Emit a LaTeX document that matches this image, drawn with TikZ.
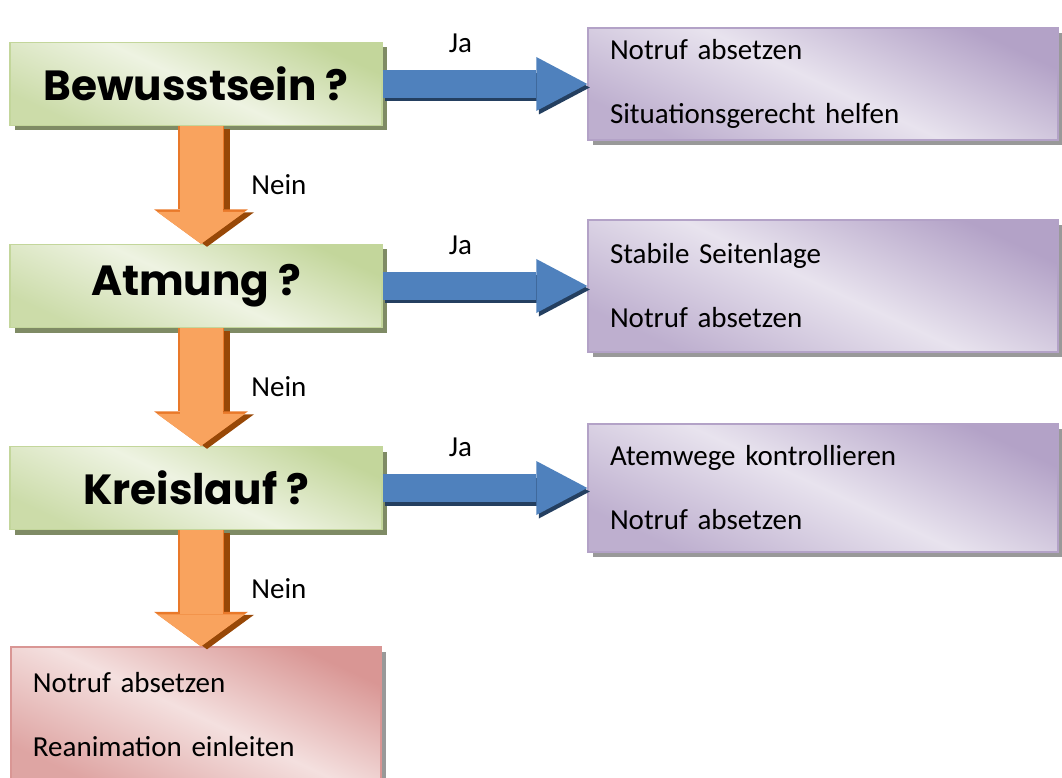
\documentclass[tikz,border=0pt]{standalone}
\usepackage{fontspec}
\setmainfont{Carlito}
\newfontfamily\titlefont{Poppins}
\usepackage{tikz}
\usetikzlibrary{arrows.meta, shadows, shadings}

\definecolor{gruenhell}{HTML}{EEF3E2}
\definecolor{gruendunkel}{HTML}{C3D69B}
\definecolor{lilahell}{HTML}{E8E3EE}
\definecolor{liladunkel}{HTML}{B3A2C7}
\definecolor{rothell}{HTML}{F4E0DF}
\definecolor{rotdunkel}{HTML}{D99694}
\definecolor{pfeilblau}{HTML}{4F81BD}
\definecolor{pfeilblaudunkel}{HTML}{243F60}
\definecolor{pfeilorange}{HTML}{F9A35E}
\definecolor{pfeilorangerand}{HTML}{E9792A}
\definecolor{pfeilbraun}{HTML}{984807}

\begin{document}
\begin{tikzpicture}[x=0.2mm, y=-0.2mm, node distance=40.4mm,
        font=\fontsize{16.5}{20}\selectfont,
        kasten/.style={line width=0.8pt,
            drop shadow={shadow xshift=1mm, shadow yshift=-1mm, fill=black!40, opacity=1}},
        frage/.style={kasten, draw=gruendunkel, top color=gruendunkel, bottom color=gruendunkel!80!gruenhell,
            middle color=gruenhell, shading angle=-25, minimum width=74.4mm, minimum height=16.6mm,
            drop shadow={shadow xshift=1mm, shadow yshift=-1mm, fill=black!35!gruendunkel, opacity=1},
            font=\titlefont\bfseries\fontsize{24}{28}\selectfont},
        antwort/.style={kasten, align=left, inner xsep=4.4mm,
            font=\fontsize{16.5}{36.4}\selectfont},
        lila/.style={antwort, draw=liladunkel, top color=liladunkel, bottom color=liladunkel!80!lilahell,
            middle color=lilahell, shading angle=-25, text width=85.2mm},
        rot/.style={antwort, draw=rotdunkel, top color=rotdunkel, bottom color=rotdunkel!80!rothell,
            middle color=rothell, shading angle=-25, text width=65.2mm},
        lbl/.style={text=black},
        ja/.style={line width=5.6mm, draw=pfeilblau,
            -{Triangle[length=10.2mm, width=10.8mm, line width=0pt]}},
        jaschatten/.style={ja, draw=pfeilblaudunkel, transform canvas={shift={(0.5mm,-0.7mm)}}},
        nein/.style={line width=8.6mm, draw=pfeilorange,
            -{Triangle[length=6.4mm, width=17.6mm, line width=0pt]}, transform canvas={xshift=1mm}},
        neinrand/.style={line width=9.2mm, draw=pfeilorangerand,
            -{Triangle[length=6.9mm, width=18.8mm, line width=0pt]}, transform canvas={xshift=1mm}},
        neinschatten/.style={neinrand, draw=pfeilbraun, transform canvas={shift={(1.2mm,-0.6mm)}}}]
    \useasboundingbox (0,0) rectangle (1062,778);

    % Fragen
    \node[frage] (B) at (196,84) {Bewusstsein ?};
    \node[frage, below of=B] (A) {Atmung ?};
    \node[frage, below of=A] (K) {Kreislauf ?};
    \node[rot, below of=K, node distance=45.4mm, minimum height=27.2mm] (R)
        {Notruf absetzen\\Reanimation einleiten};

    % Antworten
    \node[lila, right of=B, node distance=125.4mm, minimum height=22.4mm] (Bj)
        {Notruf absetzen\\Situationsgerecht helfen};
    \node[lila, right of=A, node distance=125.4mm, minimum height=26.4mm] (Aj)
        {Stabile Seitenlage\\Notruf absetzen};
    \node[lila, right of=K, node distance=125.4mm, minimum height=25.6mm] (Kj)
        {Atemwege kontrollieren\\Notruf absetzen};

    % Ja
    \draw[jaschatten] (B) -- (Bj);
    \draw[ja] (B) -- node[lbl, above=2.2mm, pos=0.38] {Ja} (Bj);
    \draw[jaschatten] (A) -- (Aj);
    \draw[ja] (A) -- node[lbl, above=2.2mm, pos=0.38] {Ja} (Aj);
    \draw[jaschatten] (K) -- (Kj);
    \draw[ja] (K) -- node[lbl, above=2.2mm, pos=0.38] {Ja} (Kj);

    % Nein
    \draw[neinschatten] (B) -- (A);
    \draw[neinrand] (B) -- (A);
    \draw[nein] (B) -- node[lbl, right=4.6mm] {Nein} (A);
    \draw[neinschatten] (A) -- (K);
    \draw[neinrand] (A) -- (K);
    \draw[nein] (A) -- node[lbl, right=4.6mm] {Nein} (K);
    \draw[neinschatten] (K) -- (R);
    \draw[neinrand] (K) -- (R);
    \draw[nein] (K) -- node[lbl, right=4.6mm] {Nein} (R);
\end{tikzpicture}
\end{document}
